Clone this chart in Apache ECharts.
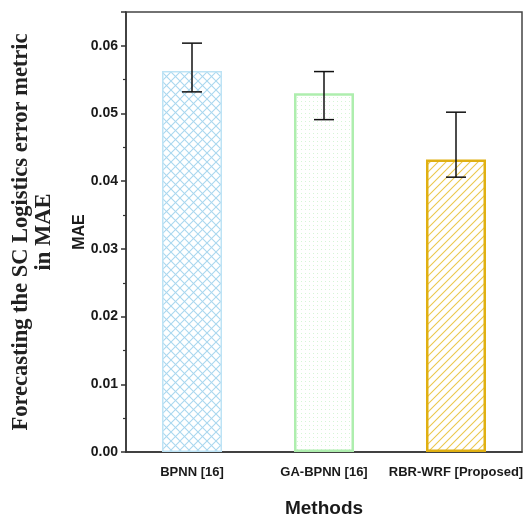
<!DOCTYPE html>
<html>
<head>
<meta charset="utf-8">
<script src="https://cdn.jsdelivr.net/npm/echarts@6/dist/echarts.min.js"></script>
<style>
  html, body { margin: 0; padding: 0; background: #fff; }
  #chart { width: 525px; height: 520px; }
</style>
</head>
<body>
<div id="chart"></div>
<script>
// 数据
var categories = ['BPNN [16]', 'GA-BPNN [16]', 'RBR-WRF [Proposed]'];
var maeValues = [0.0563, 0.0530, 0.0432];
var errLow = [0.0532, 0.0491, 0.0406];
var errHigh = [0.0604, 0.0562, 0.0502];

// 填充图案
function makePattern(kind, color) {
  var s = kind === 'dots' ? 4 : (kind === 'cross' ? 9 : 8);
  var c = document.createElement('canvas');
  c.width = s; c.height = s;
  var ctx = c.getContext('2d');
  ctx.strokeStyle = color;
  ctx.fillStyle = color;
  ctx.lineWidth = 1.1;
  function slash() {
    ctx.beginPath();
    ctx.moveTo(0, s); ctx.lineTo(s, 0);
    ctx.moveTo(-s / 2, s / 2); ctx.lineTo(s / 2, -s / 2);
    ctx.moveTo(s / 2, s * 1.5); ctx.lineTo(s * 1.5, s / 2);
    ctx.stroke();
  }
  function backslash() {
    ctx.beginPath();
    ctx.moveTo(0, 0); ctx.lineTo(s, s);
    ctx.moveTo(-s / 2, s / 2); ctx.lineTo(s / 2, s * 1.5);
    ctx.moveTo(s / 2, -s / 2); ctx.lineTo(s * 1.5, s / 2);
    ctx.stroke();
  }
  if (kind === 'cross') { slash(); backslash(); }
  else if (kind === 'slash') { slash(); }
  else { ctx.fillRect(1, 1, 1, 1); }
  return { image: c, repeat: 'repeat' };
}

var barStyles = [
  { color: makePattern('cross', '#aad8ef'), borderColor: '#bde3f5', borderWidth: 1.5 },
  { color: makePattern('dots', '#d6f5d6'), borderColor: '#aeeeae', borderWidth: 2.5 },
  { color: makePattern('slash', '#ebc84e'), borderColor: '#e0b012', borderWidth: 2.5 }
];

var chart = echarts.init(document.getElementById('chart'));
var tickFont = 'Liberation Sans, Arial';

chart.setOption({
  animation: false,
  grid: {
    left: 126, right: 3, top: 12, bottom: 68,
    outerBoundsMode: 'none',
    containLabel: false,
    show: true, borderColor: '#444', borderWidth: 1.5
  },
  graphic: [{
    type: 'text',
    x: 33, y: 232,
    rotation: Math.PI / 2,
    style: {
      text: 'Forecasting the SC Logistics error metric\nin MAE',
      font: 'bold 22.5px "Liberation Serif", "Times New Roman", serif',
      fill: '#222',
      align: 'center',
      verticalAlign: 'middle',
      lineHeight: 23
    }
  }],
  xAxis: [{
    type: 'category',
    data: categories,
    name: 'Methods',
    nameLocation: 'middle',
    nameGap: 47,
    nameMoveOverlap: false,
    nameTextStyle: { fontFamily: tickFont, fontWeight: 'bold', fontSize: 19, color: '#1a1a1a' },
    axisLine: { lineStyle: { color: '#333', width: 1.5 } },
    axisTick: { alignWithLabel: true, length: 7, lineStyle: { color: '#333', width: 1.5 } },
    axisLabel: { fontFamily: tickFont, fontWeight: 'bold', fontSize: 13, color: '#1a1a1a', margin: 14, interval: 0 }
  }, {
    type: 'category',
    data: categories,
    position: 'bottom',
    axisLine: { show: false },
    axisTick: { length: 4, lineStyle: { color: '#333', width: 1.5 } },
    axisLabel: { show: false }
  }],
  yAxis: {
    type: 'value',
    min: 0,
    max: 0.065,
    interval: 0.01,
    name: 'MAE',
    nameLocation: 'middle',
    nameGap: 38,
    nameMoveOverlap: false,
    nameTextStyle: { fontFamily: tickFont, fontWeight: 'bold', fontSize: 16, color: '#1a1a1a' },
    axisLine: { show: true, lineStyle: { color: '#333', width: 1.5 } },
    axisTick: { show: true, length: 5, lineStyle: { color: '#333', width: 1.5 } },
    minorTick: { show: true, splitNumber: 2, length: 3, lineStyle: { color: '#333', width: 1.2 } },
    splitLine: { show: false },
    axisLabel: {
      showMaxLabel: false,
      fontFamily: tickFont, fontWeight: 'bold', fontSize: 14, color: '#1a1a1a', margin: 8,
      formatter: function (v) { return v.toFixed(2); }
    }
  },
  series: [{
    type: 'bar',
    barWidth: 60,
    data: maeValues.map(function (v, i) {
      return { value: v, itemStyle: barStyles[i] };
    })
  }, {
    type: 'custom',
    data: categories.map(function (c, i) { return [i, errLow[i], errHigh[i]]; }),
    renderItem: function (params, api) {
      var lo = api.coord([api.value(0), api.value(1)]);
      var hi = api.coord([api.value(0), api.value(2)]);
      var hw = 10;
      var style = { stroke: '#111', lineWidth: 1.5 };
      return {
        type: 'group',
        children: [
          { type: 'line', shape: { x1: lo[0], y1: lo[1], x2: hi[0], y2: hi[1] }, style: style },
          { type: 'line', shape: { x1: lo[0] - hw, y1: lo[1], x2: lo[0] + hw, y2: lo[1] }, style: style },
          { type: 'line', shape: { x1: hi[0] - hw, y1: hi[1], x2: hi[0] + hw, y2: hi[1] }, style: style }
        ]
      };
    },
    z: 10
  }]
});
</script>
</body>
</html>
